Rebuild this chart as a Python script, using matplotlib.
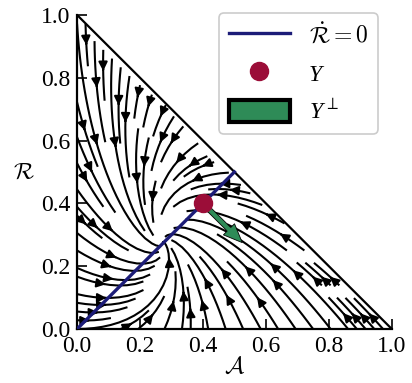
import numpy as np
import matplotlib
matplotlib.use("Agg")
import matplotlib.pyplot as plt
from matplotlib.lines import Line2D
from matplotlib.patches import Patch

plt.rcParams['font.family'] = ['Liberation Serif', 'DejaVu Serif']
plt.rcParams['mathtext.fontset'] = 'cm'
plt.rcParams['font.size'] = 17

# linearised dynamics: stable focus on the diagonal, R-dot vanishes on A = R
fixed_pt = 0.275
a_rate = 1.43
b_rate = 0.48
c_rate = 1.0

nullcline_A = [0.0, 0.5]
nullcline_R = [0.0, 0.5]
upsilon = [0.4, 0.4]
upsilon_perp = [0.125, -0.125]

ticks = [0.0, 0.2, 0.4, 0.6, 0.8, 1.0]
tick_labels = ['0.0', '0.2', '0.4', '0.6', '0.8', '1.0']

navy = '#1c1c78'
crimson = '#9b0d38'
green = '#2e8b57'

grid = np.linspace(0, 1, 401)
A, R = np.meshgrid(grid, grid)
dA = -a_rate * (A - fixed_pt) - b_rate * (R - fixed_pt)
dR = c_rate * (A - R)
outside = A + R > 1.0 + 1e-9
dA[outside] = np.nan
dR[outside] = np.nan

fig = plt.figure(figsize=(4.12, 3.83), dpi=100)
ax = fig.add_axes([0.187, 0.141, 0.764, 0.820])

ax.streamplot(A, R, dA, dR, color='k', density=1.25, linewidth=1.5,
              arrowsize=1.3, zorder=1)
ax.plot([0, 1], [1, 0], color='k', lw=1.6, zorder=2)
ax.plot(nullcline_A, nullcline_R, color=navy, lw=2.4, zorder=3)
ax.arrow(upsilon[0], upsilon[1], upsilon_perp[0], upsilon_perp[1],
         width=0.016, head_width=0.05, head_length=0.06,
         length_includes_head=True, fc=green, ec='k', lw=0.6, zorder=4)
ax.plot(upsilon[0], upsilon[1], 'o', color=crimson, ms=13, zorder=5)

ax.set_xlim(0, 1)
ax.set_ylim(0, 1)
ax.set_xticks(ticks)
ax.set_xticklabels(tick_labels)
ax.set_yticks(ticks)
ax.set_yticklabels(tick_labels)
ax.tick_params(direction='in', length=7, width=1.2, pad=5)
for side in ['top', 'right']:
    ax.spines[side].set_visible(False)
for side in ['left', 'bottom']:
    ax.spines[side].set_linewidth(1.6)

ax.set_xlabel(r'$\mathcal{A}$', labelpad=0)
ax.set_ylabel(r'$\mathcal{R}$', rotation=0, labelpad=12, va='center')

handles = [
    Line2D([], [], color=navy, lw=2.4),
    Line2D([], [], marker='o', ls='none', color=crimson, ms=13),
    Patch(facecolor=green, edgecolor='k', lw=3),
]
labels = [r'$\dot{\mathcal{R}}=0$', 'Υ', r'Υ$^{\perp}$']
leg = ax.legend(handles, labels, loc='upper right', bbox_to_anchor=(0.956, 1.006),
                borderaxespad=0, handlelength=2.6, handleheight=1.0,
                labelspacing=0.6, fontsize=17, framealpha=1, edgecolor='#cccccc')
leg.get_frame().set_linewidth(1.2)
for txt in leg.get_texts()[1:]:
    txt.set_fontstyle('italic')

fig.savefig('out.png', dpi=100)
